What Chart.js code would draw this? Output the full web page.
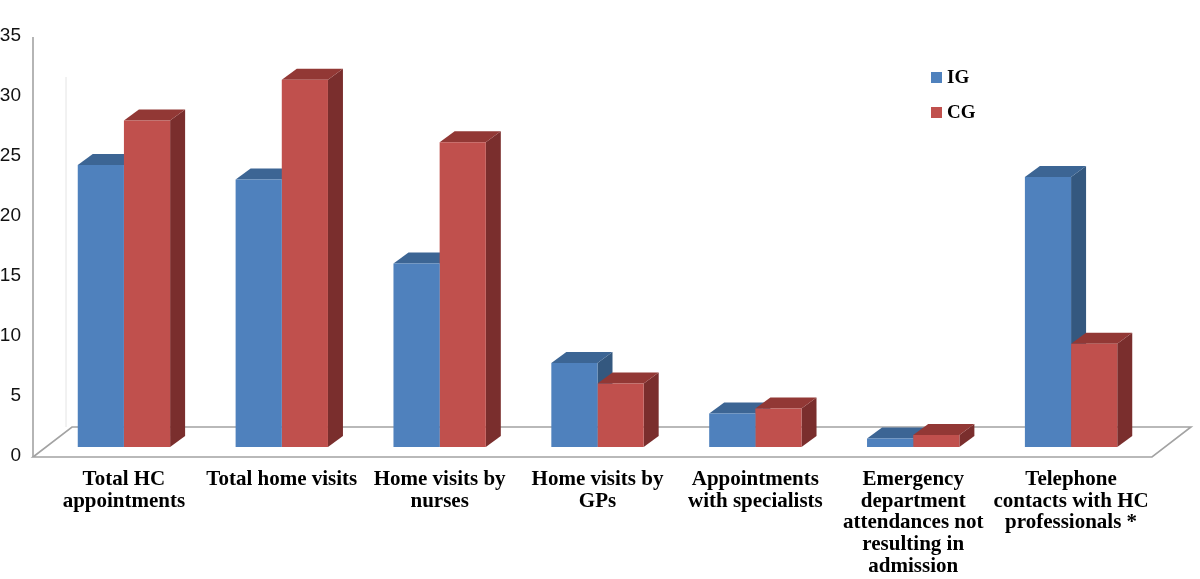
<!DOCTYPE html>
<html>
<head>
<meta charset="utf-8">
<script src="https://cdn.jsdelivr.net/npm/chart.js@4/dist/chart.umd.min.js"></script>
<style>
  html, body { margin: 0; padding: 0; background: #ffffff; }
  #wrap { width: 1200px; height: 579px; }
</style>
</head>
<body>
<div id="wrap"><canvas id="c" width="1200" height="579"></canvas></div>
<script>
// ---- data ----
const categories = [
  ["Total HC", "appointments"],
  ["Total home visits"],
  ["Home visits by", "nurses"],
  ["Home visits by", "GPs"],
  ["Appointments", "with specialists"],
  ["Emergency", "department", "attendances not", "resulting in", "admission"],
  ["Telephone", "contacts with HC", "professionals *"]
];
const seriesNames = ["IG", "CG"];
const igValues = [23.5, 22.3, 15.3, 7.0, 2.8, 0.7, 22.5];
const cgValues = [27.2, 30.6, 25.4, 5.3, 3.2, 1.0, 8.6];
const yTicks = [0, 5, 10, 15, 20, 25, 30, 35];

// ---- styles ----
const frontColors = ["#4F81BD", "#C0504D"];
const topColors = ["#3C6594", "#923835"];
const sideColors = ["#34587F", "#7A2E2D"];
const DEPTH_X = 15, DEPTH_Y = -11;

const floorPlugin = {
  id: 'floor3d',
  beforeDatasetsDraw(chart) {
    const ctx = chart.ctx;
    const a = chart.chartArea;
    const ys = chart.scales.y;
    const fl = a.left - 12, fr = a.right + 2, fy = a.bottom + 10;
    const bx = 39, by = -30;
    ctx.save();
    // back wall faint edge
    ctx.strokeStyle = '#e4e4e4';
    ctx.lineWidth = 1;
    ctx.beginPath();
    ctx.moveTo(fl + bx - 6, fy + by);
    ctx.lineTo(fl + bx - 6, ys.getPixelForValue(yTicks[yTicks.length - 1]) + 50);
    ctx.stroke();
    // floor
    ctx.strokeStyle = '#a3a3a3';
    ctx.lineWidth = 1.6;
    ctx.beginPath();
    ctx.moveTo(fl, fy);
    ctx.lineTo(fl + bx, fy + by);
    ctx.lineTo(fr + bx, fy + by);
    ctx.lineTo(fr, fy);
    ctx.closePath();
    ctx.stroke();
    // value axis line (front plane)
    ctx.beginPath();
    ctx.moveTo(fl, ys.getPixelForValue(yTicks[yTicks.length - 1]) + 10);
    ctx.lineTo(fl, fy);
    ctx.stroke();

    // 3D side and top faces, drawn from the library's bar elements
    const n = chart.data.labels.length;
    for (let i = 0; i < n; i++) {
      chart.data.datasets.forEach((ds, d) => {
        const meta = chart.getDatasetMeta(d);
        const bar = meta.data[i];
        if (!bar) return;
        const p = bar.getProps(['x', 'y', 'base', 'width'], true);
        const l = p.x - p.width / 2, r = p.x + p.width / 2, t = p.y, b = p.base;
        // side
        ctx.fillStyle = sideColors[d];
        ctx.beginPath();
        ctx.moveTo(r, t);
        ctx.lineTo(r + DEPTH_X, t + DEPTH_Y);
        ctx.lineTo(r + DEPTH_X, b + DEPTH_Y);
        ctx.lineTo(r, b);
        ctx.closePath();
        ctx.fill();
        // top
        ctx.fillStyle = topColors[d];
        ctx.beginPath();
        ctx.moveTo(l, t);
        ctx.lineTo(l + DEPTH_X, t + DEPTH_Y);
        ctx.lineTo(r + DEPTH_X, t + DEPTH_Y);
        ctx.lineTo(r, t);
        ctx.closePath();
        ctx.fill();
      });
    }
    ctx.restore();
  }
};

const legendPlugin = {
  id: 'customLegend',
  afterDraw(chart) {
    const ctx = chart.ctx;
    ctx.save();
    ctx.font = 'bold 19px "Liberation Serif", "Times New Roman", serif';
    ctx.textBaseline = 'middle';
    ctx.textAlign = 'left';
    chart.data.datasets.forEach((ds, d) => {
      const x = 931, y = 72 + d * 35;
      ctx.fillStyle = ds.backgroundColor;
      ctx.fillRect(x, y, 11, 11);
      ctx.fillStyle = '#000';
      ctx.fillText(ds.label, x + 16, y + 6);
    });
    ctx.restore();
  }
};

new Chart(document.getElementById('c'), {
  type: 'bar',
  data: {
    labels: categories,
    datasets: [
      { label: seriesNames[0], data: igValues, backgroundColor: frontColors[0], borderWidth: 0 },
      { label: seriesNames[1], data: cgValues, backgroundColor: frontColors[1], borderWidth: 0 }
    ]
  },
  options: {
    responsive: false,
    animation: false,
    layout: { padding: { top: 27, left: 0, right: 50, bottom: 0 } },
    datasets: { bar: { categoryPercentage: 0.585, barPercentage: 1.0 } },
    plugins: { legend: { display: false }, tooltip: { enabled: false } },
    scales: {
      x: {
        grid: { display: false, drawTicks: false },
        border: { display: false },
        ticks: {
          autoSkip: false,
          maxRotation: 0,
          minRotation: 0,
          padding: 22,
          color: '#000',
          font: { family: '"Liberation Serif", "Times New Roman", serif', weight: 'bold', size: 21, lineHeight: 1.03 }
        },
        afterFit(scale) { scale.height = 132; scale.paddingLeft = 0; scale.paddingRight = 0; }
      },
      y: {
        min: 0,
        max: 35,
        afterBuildTicks(scale) { scale.ticks = yTicks.map(v => ({ value: v })); },
        grid: { display: false, drawTicks: false },
        border: { display: false },
        ticks: {
          padding: 24,
          labelOffset: 9,
          color: '#111',
          font: { family: '"Liberation Sans", Arial, sans-serif', size: 19 }
        },
        afterFit(scale) { scale.width = 45; scale.paddingTop = 0; scale.paddingBottom = 0; }
      }
    }
  },
  plugins: [floorPlugin, legendPlugin]
});
</script>
</body>
</html>
